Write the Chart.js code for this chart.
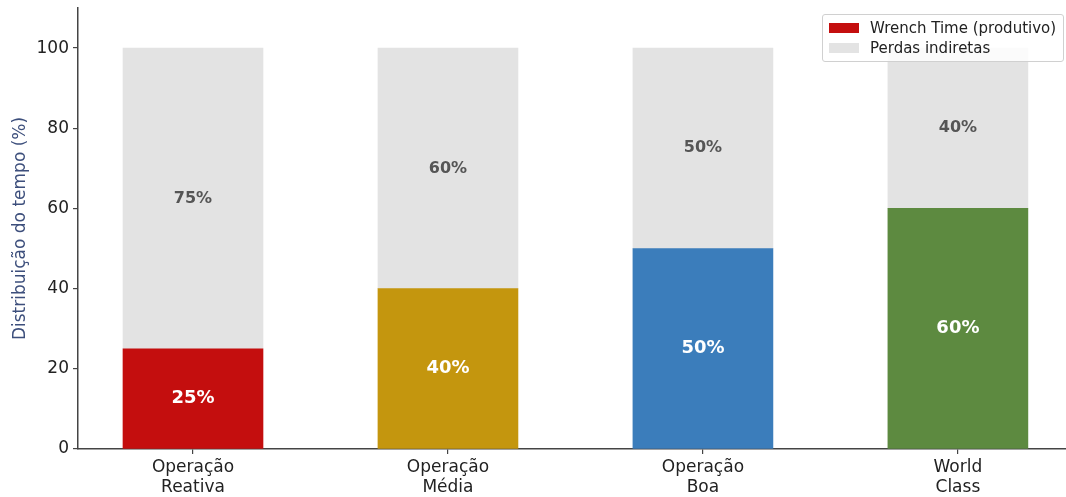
<!DOCTYPE html>
<html>
<head>
<meta charset="utf-8">
<script src="https://cdn.jsdelivr.net/npm/chart.js"></script>
<style>
  body{margin:0;background:#fff;}
  #wrap{position:relative;width:1066px;height:497px;}
  #legend{position:absolute;left:822px;top:14px;width:242px;height:48px;border:1px solid #d0d0d0;border-radius:3px;
    background:rgba(255,255,255,0.85);font-family:"DejaVu Sans",sans-serif;font-size:15px;color:#222;box-sizing:border-box;}
  #legend .row{position:absolute;left:6px;height:18px;line-height:18px;white-space:nowrap;}
  #legend .sw{display:inline-block;width:30px;height:10px;vertical-align:middle;margin-right:11px;margin-top:-2px;}
</style>
</head>
<body>
<div id="wrap">
  <canvas id="c" width="1066" height="497"></canvas>
  <div id="legend"></div>
</div>
<script>
  const categories=[["Operação","Reativa"],["Operação","Média"],["Operação","Boa"],["World","Class"]];
  const wrenchTime=[25,40,50,60];
  const indirectLosses=[75,60,50,40];
  const barColors=["#c40e0e","#c4960e","#3b7dbb","#5d8a40"];
  const lossColor="#e3e3e3";
  const seriesNames=["Wrench Time (produtivo)","Perdas indiretas"];

  const FONT='"DejaVu Sans", sans-serif';

  const lg=document.getElementById("legend");
  [[barColors[0],seriesNames[0]],[lossColor,seriesNames[1]]].forEach((e,i)=>{
    const r=document.createElement("div");
    r.className="row";
    r.style.top=(4+i*20)+"px";
    r.innerHTML=`<span class="sw" style="background:${e[0]}"></span>${e[1]}`;
    lg.append(r);
  });

  const labelPlugin={
    id:"segLabels",
    afterDatasetsDraw(chart){
      const ctx=chart.ctx;
      chart.data.datasets.forEach((ds,di)=>{
        const meta=chart.getDatasetMeta(di);
        meta.data.forEach((bar,i)=>{
          const p=bar.getProps(["x","y","base"],true);
          const v=ds.data[i].y;
          ctx.save();
          ctx.textAlign="center";
          ctx.textBaseline="middle";
          if(di===0){ctx.fillStyle="#ffffff";ctx.font="bold 18px "+FONT;}
          else{ctx.fillStyle="#555555";ctx.font="bold 16px "+FONT;}
          ctx.fillText(v+"%",p.x,(p.y+p.base)/2);
          ctx.restore();
        });
      });
    }
  };

  new Chart(document.getElementById("c"),{
    type:"bar",
    data:{
      datasets:[
        {label:seriesNames[0],data:wrenchTime.map((v,i)=>({x:i,y:v})),backgroundColor:barColors,barThickness:140},
        {label:seriesNames[1],data:indirectLosses.map((v,i)=>({x:i,y:v})),backgroundColor:lossColor,barThickness:140}
      ]
    },
    options:{
      responsive:false,
      animation:false,
      layout:{padding:{top:8,left:0,right:0,bottom:0}},
      plugins:{legend:{display:false},tooltip:{enabled:false}},
      scales:{
        x:{
          type:"linear",stacked:true,min:-0.451,max:3.424,offset:false,
          afterFit(s){s.height=48;s.paddingLeft=0;s.paddingRight=0;},
          grid:{display:true,offset:false,drawOnChartArea:false,drawTicks:true,tickLength:5,color:"#444",lineWidth:1.2},
          border:{display:true,color:"#444",width:1.5},
          ticks:{stepSize:1,includeBounds:false,autoSkip:false,maxRotation:0,padding:3,color:"#222",
            font:{family:FONT,size:17,lineHeight:1.2},
            callback:v=>Number.isInteger(v)&&categories[v]?categories[v]:""}
        },
        y:{
          stacked:true,min:0,max:110,
          afterFit(s){s.width=78;s.paddingTop=0;s.paddingBottom=0;},
          grid:{display:true,drawOnChartArea:false,drawTicks:true,tickLength:5,color:"#444",lineWidth:1.2},
          border:{display:true,color:"#444",width:1.5},
          ticks:{stepSize:20,includeBounds:false,padding:4,color:"#222",font:{family:FONT,size:17}},
          title:{display:true,text:"Distribuição do tempo (%)",color:"#3d4f7c",font:{family:FONT,size:17},padding:{top:10,bottom:0}}
        }
      }
    },
    plugins:[labelPlugin]
  });
</script>
</body>
</html>
